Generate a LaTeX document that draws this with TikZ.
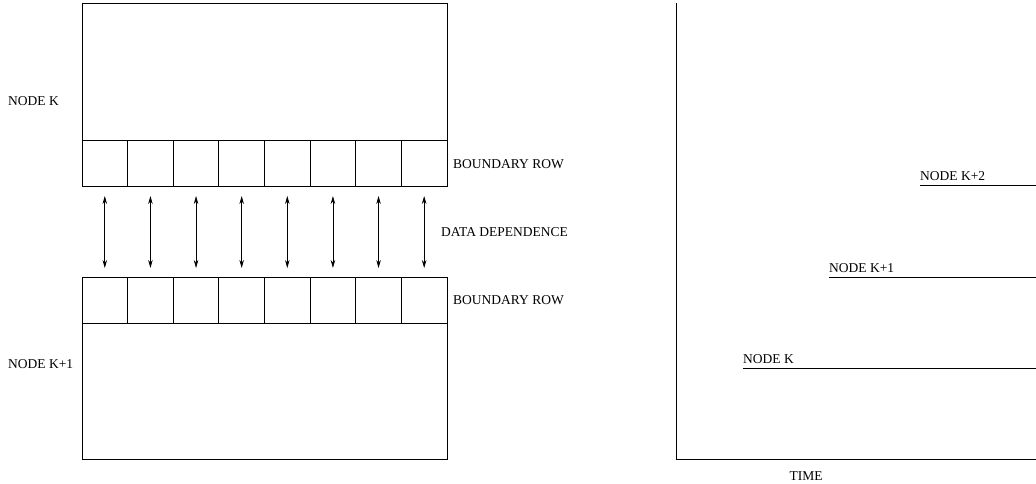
\documentclass[tikz,border=0pt]{standalone}
\usepackage{fontspec}
\setmainfont{Liberation Serif}
\usetikzlibrary{arrows.meta}
\begin{document}
\begin{tikzpicture}[x=1pt,y=-1pt,
  box/.style={draw,line width=0.9pt},
  lbl/.style={font=\fontsize{13.5}{16}\selectfont,inner sep=0pt},
  dep/.style={{Stealth[length=8pt,width=4.5pt]}-{Stealth[length=8pt,width=4.5pt]},line width=0.7pt},
  ax/.style={line width=0.9pt},
  tl/.style={line width=0.9pt}]
\useasboundingbox (0,0) rectangle (1036,483);
% upper node
\draw[box] (82,3) rectangle (447,140);
\draw[box] (82,140) rectangle (447,186);
% lower node
\draw[box] (82,277) rectangle (447,323);
\draw[box] (82,323) rectangle (447,459);
\foreach \i in {1,...,7}{
  \pgfmathsetmacro{\xx}{82+\i*45.625}
  \draw[box] (\xx,140) -- (\xx,186);
  \draw[box] (\xx,277) -- (\xx,323);
}
\foreach \i in {0,...,7}{
  \pgfmathsetmacro{\xx}{82+22.8+\i*45.625}
  \coordinate (u\i) at (\xx,196);
  \coordinate (d\i) at (\xx,268);
  \draw[dep] (u\i) -- (d\i);
}
\node[lbl,anchor=west] (nk) at (8,101) {NODE K};
\node[lbl,anchor=west] (nk1) at (8,364) {NODE K+1};
\node[lbl,anchor=west] (br1) at (453,164) {BOUNDARY ROW};
\node[lbl,anchor=west] (br2) at (453,300) {BOUNDARY ROW};
\node[lbl,anchor=west] (dd) at (441,232) {DATA DEPENDENCE};
% right panel
\coordinate (o) at (676,459);
\coordinate (top) at (676,3);
\coordinate (xe) at (1036,459);
\draw[ax] (top) -- (o) -- (xe);
\coordinate (a0) at (743,368);
\coordinate (b0) at (1036,368);
\coordinate (a1) at (829,277);
\coordinate (b1) at (1036,277);
\coordinate (a2) at (920,185);
\coordinate (b2) at (1036,185);
\draw[tl] (a0) -- (b0);
\draw[tl] (a1) -- (b1);
\draw[tl] (a2) -- (b2);
\node[lbl,anchor=south west,yshift=4pt] (l0) at (a0) {NODE K};
\node[lbl,anchor=south west,yshift=4pt] (l1) at (a1) {NODE K+1};
\node[lbl,anchor=south west,yshift=4pt] (l2) at (a2) {NODE K+2};
\node[lbl] (time) at (806,476) {TIME};
\end{tikzpicture}
\end{document}
